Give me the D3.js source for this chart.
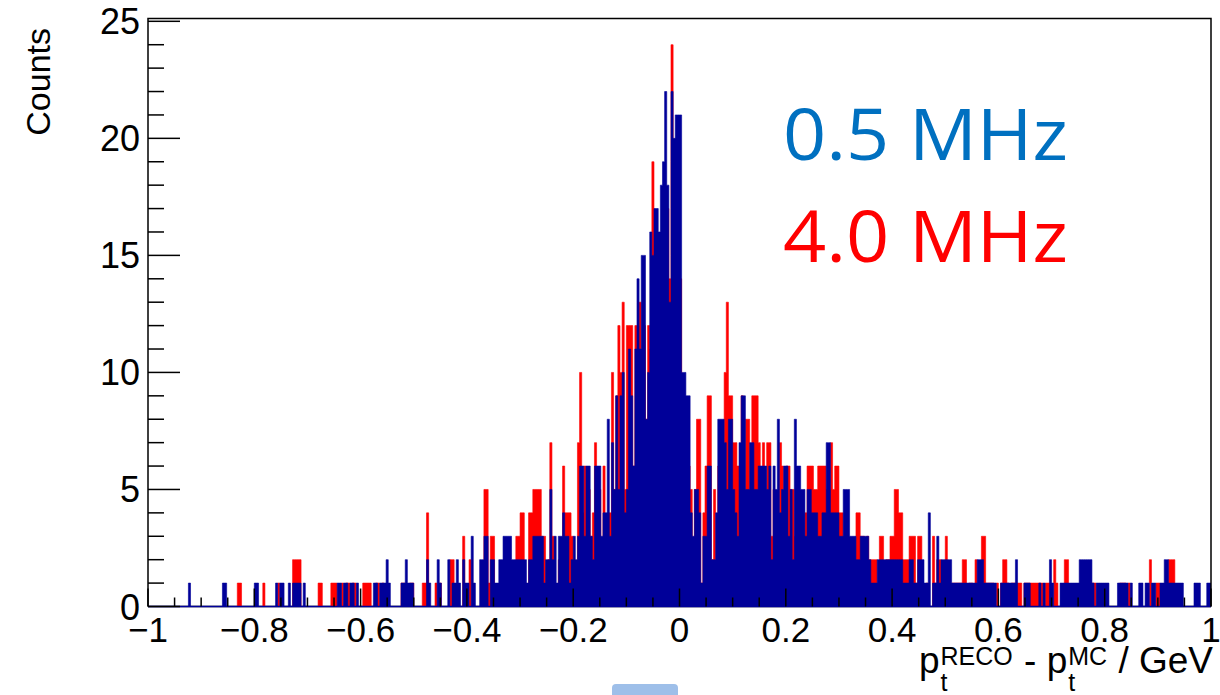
<!DOCTYPE html>
<html><head><meta charset="utf-8">
<script src="https://cdn.jsdelivr.net/npm/d3@7"></script>
<style>html,body{margin:0;padding:0;background:#fff;} svg{display:block;}</style>
</head><body>
<svg id="c" width="1220" height="695"></svg>
<script>
// ---- data (500 bins from -1 to 1) ----
const binLow = -1, binHigh = 1;
const blueCounts = [
0,0,0,0,0,0,0,0,0,0, 0,0,0,0,0,0,0,0,0,1, 0,0,0,0,0,0,0,0,0,0, 0,0,0,0,0,1,1,0,0,0, 0,0,0,0,0,0,0,0,0,0,
1,1,0,0,0,0,0,0,0,0, 1,0,1,1,0,0,1,0,1,1, 1,1,0,1,0,0,0,0,0,0, 0,0,0,0,0,0,0,0,0,1, 1,0,1,1,0,1,1,0,1,0,
0,0,0,0,0,0,1,1,0,1, 1,1,2,1,0,0,0,0,0,1, 1,2,1,1,1,0,0,0,0,0, 0,2,1,0,0,0,2,1,0,0, 0,2,0,1,1,2,1,0,2,1,
1,0,3,1,0,0,2,2,3,3, 0,2,2,1,1,2,2,3,3,3, 3,2,2,2,2,2,2,2,1,2, 2,3,3,3,3,3,1,2,2,5, 2,3,1,3,3,4,3,3,1,2,
3,2,3,6,6,3,6,6,3,2, 6,6,6,3,4,4,8,3,7,5, 9,5,9,10,4,5,11,9,6,11, 14,11,15,15,8,10,16,15,17,17, 16,18,19,22,18,13,22,20,21,21,
21,10,10,9,9,4,3,5,5,4, 1,3,3,6,6,2,2,4,8,8, 8,7,5,8,8,5,4,3,7,9, 9,5,5,7,7,5,5,6,6,6, 6,5,6,2,6,5,8,4,5,6,
6,3,5,2,8,6,6,5,5,3, 5,5,4,4,4,3,3,4,4,7, 7,4,4,4,4,3,3,5,5,5, 3,3,3,2,2,3,3,3,3,2, 1,1,1,2,2,2,2,2,2,2,
2,2,2,2,2,1,1,1,2,2, 1,1,2,2,2,1,1,4,0,1, 1,3,1,2,2,2,2,2,1,1, 1,1,1,1,1,1,1,1,1,1, 2,2,2,1,1,1,1,1,1,0,
0,1,1,1,1,1,1,1,2,0, 0,0,1,1,1,0,0,0,0,1, 0,1,0,0,2,1,0,0,0,1, 1,1,1,1,1,1,1,1,2,2, 2,2,2,2,1,0,1,1,1,1,
1,1,0,0,0,0,1,1,1,1, 1,0,1,0,0,0,1,1,0,1, 1,0,1,1,0,0,1,1,2,2, 1,1,1,1,1,1,1,0,0,0, 0,0,1,1,1,0,0,0,1,1
];
const redCounts = [
0,0,0,0,0,0,0,0,0,0, 0,0,0,0,0,0,0,0,0,0, 0,0,0,0,0,0,0,0,0,0, 0,0,0,0,0,0,0,0,0,0, 0,0,1,1,0,0,0,0,0,0,
0,0,0,0,1,0,0,0,0,0, 0,1,0,0,0,0,0,0,2,2, 2,2,0,0,0,0,0,0,0,0, 1,1,0,0,0,0,1,1,1,0, 0,1,0,1,1,0,1,1,0,0,
0,1,1,1,1,0,0,1,1,0, 1,0,0,0,0,0,0,0,0,1, 1,0,0,1,1,0,0,0,0,1, 1,4,0,0,0,1,0,1,0,0, 0,0,2,2,0,0,0,0,3,0,
0,2,0,0,0,0,0,0,5,5, 1,3,3,0,0,0,0,0,0,0, 0,0,0,3,3,4,4,1,0,4, 4,5,5,5,5,3,3,0,2,7, 3,0,0,2,0,6,4,4,4,3,
2,1,7,10,4,6,2,5,3,4, 7,3,5,2,6,2,4,4,10,5, 9,12,10,13,5,12,12,12,6,12, 12,13,10,12,8,12,11,19,14,12, 13,12,15,14,17,14,24,14,15,12,
14,9,7,8,6,5,2,5,8,8, 1,4,6,9,9,2,5,2,6,7, 6,10,13,9,9,7,7,6,5,9, 5,8,8,4,9,9,9,7,5,7, 5,7,7,3,5,4,2,7,6,4,
6,6,5,5,3,5,4,4,3,4, 6,6,6,5,5,6,6,6,6,5, 5,7,5,6,6,4,4,3,2,2, 2,1,2,4,4,3,3,2,3,2, 2,2,2,1,3,3,1,2,2,3,
3,5,5,4,4,2,2,2,3,3, 3,1,3,3,0,0,1,0,0,3, 1,2,2,1,1,3,1,0,1,1, 1,1,1,2,2,0,1,1,0,2, 1,1,3,3,1,1,1,1,0,1,
0,1,2,2,1,0,1,1,1,1, 1,0,1,1,1,1,1,1,1,1, 1,0,1,1,1,0,2,1,0,0, 0,2,2,0,0,0,0,0,0,0, 0,0,0,0,1,1,0,0,0,0,
0,0,0,0,0,0,0,1,1,1, 0,1,0,0,0,0,0,0,0,0, 0,2,0,0,1,1,0,0,0,1, 2,2,2,0,0,0,0,0,0,0, 0,0,0,0,0,0,0,0,0,0
];
const xMajorTicks = [-1,-0.8,-0.6,-0.4,-0.2,0,0.2,0.4,0.6,0.8,1];
const xTickLabels = ["\u22121","\u22120.8","\u22120.6","\u22120.4","\u22120.2","0","0.2","0.4","0.6","0.8","1"];
const yMajorTicks = [0,5,10,15,20,25];
const yTickLabels = ["0","5","10","15","20","25"];
const seriesLabels = ["0.5 MHz","4.0 MHz"];
const yTitle = "Counts";

// ---- drawing ----
const svg = d3.select("#c");
const W = 1220, H = 695;
svg.append("rect").attr("width",W).attr("height",H).attr("fill","#fff");
const x = d3.scaleLinear().domain([binLow, binHigh]).range([148, 1211]);
const y = d3.scaleLinear().domain([0, 25.12]).range([606.5, 18.5]);
const FONT = "'Liberation Sans', Arial, Helvetica, sans-serif";
const BLUE = "#000099", RED = "#ff0000";

function histPts(counts){
  const n = counts.length, w = (binHigh-binLow)/n;
  const pts = counts.map((v,i)=>({e: binLow + i*w, v}));
  pts.push({e: binHigh, v: counts[n-1]});
  return pts;
}
const area = d3.area().curve(d3.curveStepAfter)
  .x(d=>x(d.e)).y0(y(0)).y1(d=>y(d.v));
const stepLine = d3.line().curve(d3.curveStepAfter).x(d=>x(d.e)).y(d=>y(d.v));

// axis line under histograms
svg.append("line").attr("x1",x(-1)).attr("x2",x(1)).attr("y1",y(0)).attr("y2",y(0))
  .attr("stroke","#000").attr("stroke-width",1.5);

svg.append("path").datum(histPts(redCounts)).attr("d",area).attr("fill",RED);
svg.append("path").datum(histPts(redCounts)).attr("d",stepLine)
  .attr("fill","none").attr("stroke",RED).attr("stroke-width",0.6);
svg.append("path").datum(histPts(blueCounts)).attr("d",area).attr("fill",BLUE);
svg.append("path").datum(histPts(blueCounts)).attr("d",stepLine)
  .attr("fill","none").attr("stroke",BLUE).attr("stroke-width",0.6);
// blue baseline (histogram line at zero)
svg.append("line").attr("x1",x(-1)).attr("x2",x(1)).attr("y1",y(0)).attr("y2",y(0))
  .attr("stroke",BLUE).attr("stroke-width",1.6);

// frame
svg.append("path")
  .attr("d",`M${x(-1)},${y(0)}V${y.range()[1]}H${x(1)}V${y(0)}`)
  .attr("fill","none").attr("stroke","#000").attr("stroke-width",1.5);

// x ticks
const xMinor = d3.range(-1, 1.0001, 0.05).filter(v=>Math.abs(Math.round(v*5)-v*5)>1e-6);
const gx = svg.append("g").attr("stroke","#000").attr("stroke-width",1.5);
xMajorTicks.forEach(v=>gx.append("line").attr("x1",x(v)).attr("x2",x(v)).attr("y1",y(0)).attr("y2",y(0)-18));
xMinor.forEach(v=>gx.append("line").attr("x1",x(v)).attr("x2",x(v)).attr("y1",y(0)).attr("y2",y(0)-9));
svg.append("g").selectAll("text").data(xMajorTicks).join("text")
  .attr("x",d=>x(d)).attr("y",642).attr("text-anchor","middle")
  .attr("font-family",FONT).attr("font-size",35).attr("fill","#000")
  .text((d,i)=>xTickLabels[i]);

// y ticks
const yMinor = d3.range(0, 26, 1).filter(v=>v%5!==0);
const gy = svg.append("g").attr("stroke","#000").attr("stroke-width",1.5);
yMajorTicks.forEach(v=>gy.append("line").attr("x1",x(-1)).attr("x2",x(-1)+32).attr("y1",y(v)).attr("y2",y(v)));
yMinor.forEach(v=>gy.append("line").attr("x1",x(-1)).attr("x2",x(-1)+16).attr("y1",y(v)).attr("y2",y(v)));
svg.append("g").selectAll("text").data(yMajorTicks).join("text")
  .attr("x",140).attr("y",d=>y(d)+13).attr("text-anchor","end")
  .attr("font-family",FONT).attr("font-size",36).attr("fill","#000")
  .text((d,i)=>yTickLabels[i]);

// y title
svg.append("text").attr("transform","translate(50,28) rotate(-90)")
  .attr("text-anchor","end").attr("font-family",FONT).attr("font-size",34)
  .attr("fill","#000").text(yTitle);

// x title: p_t^RECO - p_t^MC / GeV (right aligned)
(function(){
  const g = svg.append("g").attr("font-family",FONT).attr("fill","#000");
  const MAIN=37, SMALL=25, base=673, supBase=665, subBase=691;
  const segs = [
    {type:"main", t:"p"},
    {type:"stack", sub:"t", sup:"RECO"},
    {type:"main", t:" - p"},
    {type:"stack", sub:"t", sup:"MC"},
    {type:"main", t:" / GeV"}
  ];
  function meas(t,size){
    const e = g.append("text").attr("font-size",size).style("white-space","pre").text(t);
    const w = e.node().getComputedTextLength(); e.remove(); return w;
  }
  segs.forEach(s=>{ s.w = s.type==="main" ? meas(s.t,MAIN) : Math.max(meas(s.sub,SMALL), meas(s.sup,SMALL))+2; });
  const total = d3.sum(segs, s=>s.w);
  let cx = 1213 - total;
  segs.forEach(s=>{
    if (s.type==="main") {
      g.append("text").attr("x",cx).attr("y",base).attr("font-size",MAIN).style("white-space","pre").text(s.t);
    } else {
      g.append("text").attr("x",cx+1).attr("y",supBase).attr("font-size",SMALL).text(s.sup);
      g.append("text").attr("x",cx+1).attr("y",subBase).attr("font-size",SMALL).text(s.sub);
    }
    cx += s.w;
  });
})();

// rate labels
const labelColors = ["#0070c0", "#ff0000"];
const labelBase = [160, 262];
seriesLabels.forEach((t,i)=>{
  svg.append("text").attr("x",783).attr("y",labelBase[i])
    .attr("font-family","'Open Sans', 'Noto Sans', sans-serif").attr("font-size",72)
    .attr("textLength",285).attr("lengthAdjust","spacingAndGlyphs")
    .attr("fill",labelColors[i]).text(t);
});

// slide remnant at bottom
svg.append("rect").attr("x",612).attr("y",684).attr("width",66).attr("height",16).attr("rx",4)
  .attr("fill","#9ebfe9");
</script>
</body></html>
